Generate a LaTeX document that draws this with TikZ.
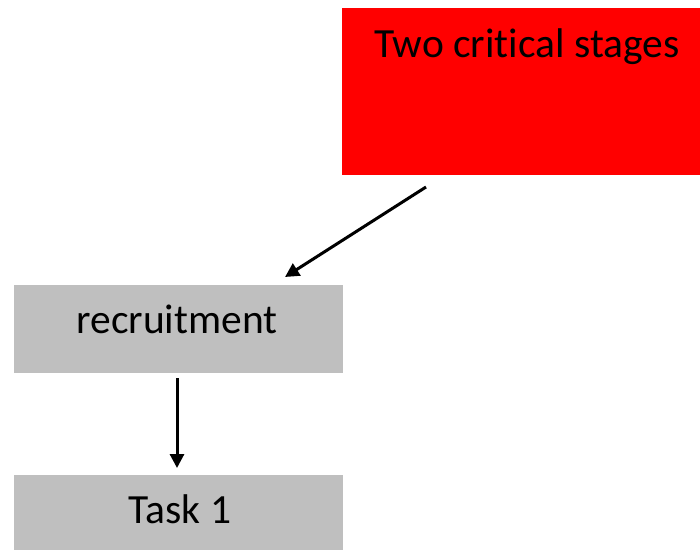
\documentclass[tikz,border=0pt]{standalone}
\usepackage{fontspec}
\setmainfont{Carlito}[Ligatures={NoCommon}]
\usetikzlibrary{arrows.meta}
\definecolor{boxgray}{RGB}{191,191,191}
\begin{document}
\begin{tikzpicture}[x=1pt,y=-1pt,
  lbl/.style={font=\fontsize{41.5}{48}\selectfont, anchor=base, inner sep=0pt},
  conn/.style={line width=3pt, -{Triangle[length=14pt,width=14pt]}}]
\useasboundingbox (0,0) rectangle (700,551);
\fill[red] (342,8) rectangle (700,175);
\fill[boxgray] (14,285) rectangle (343,373);
\fill[boxgray] (14,475) rectangle (343,550);
\node[lbl] (t1) at (527,57) {Two critical stages};
\node[lbl] (t2) at (177,333) {recruitment};
\node[lbl] (t3) at (180,523) {Task 1};
\coordinate (a1s) at (426,187);
\coordinate (a1e) at (285,277);
\coordinate (a2s) at (177,378);
\coordinate (a2e) at (177,468);
\draw[conn] (a1s) -- (a1e);
\draw[conn] (a2s) -- (a2e);
\end{tikzpicture}
\end{document}
